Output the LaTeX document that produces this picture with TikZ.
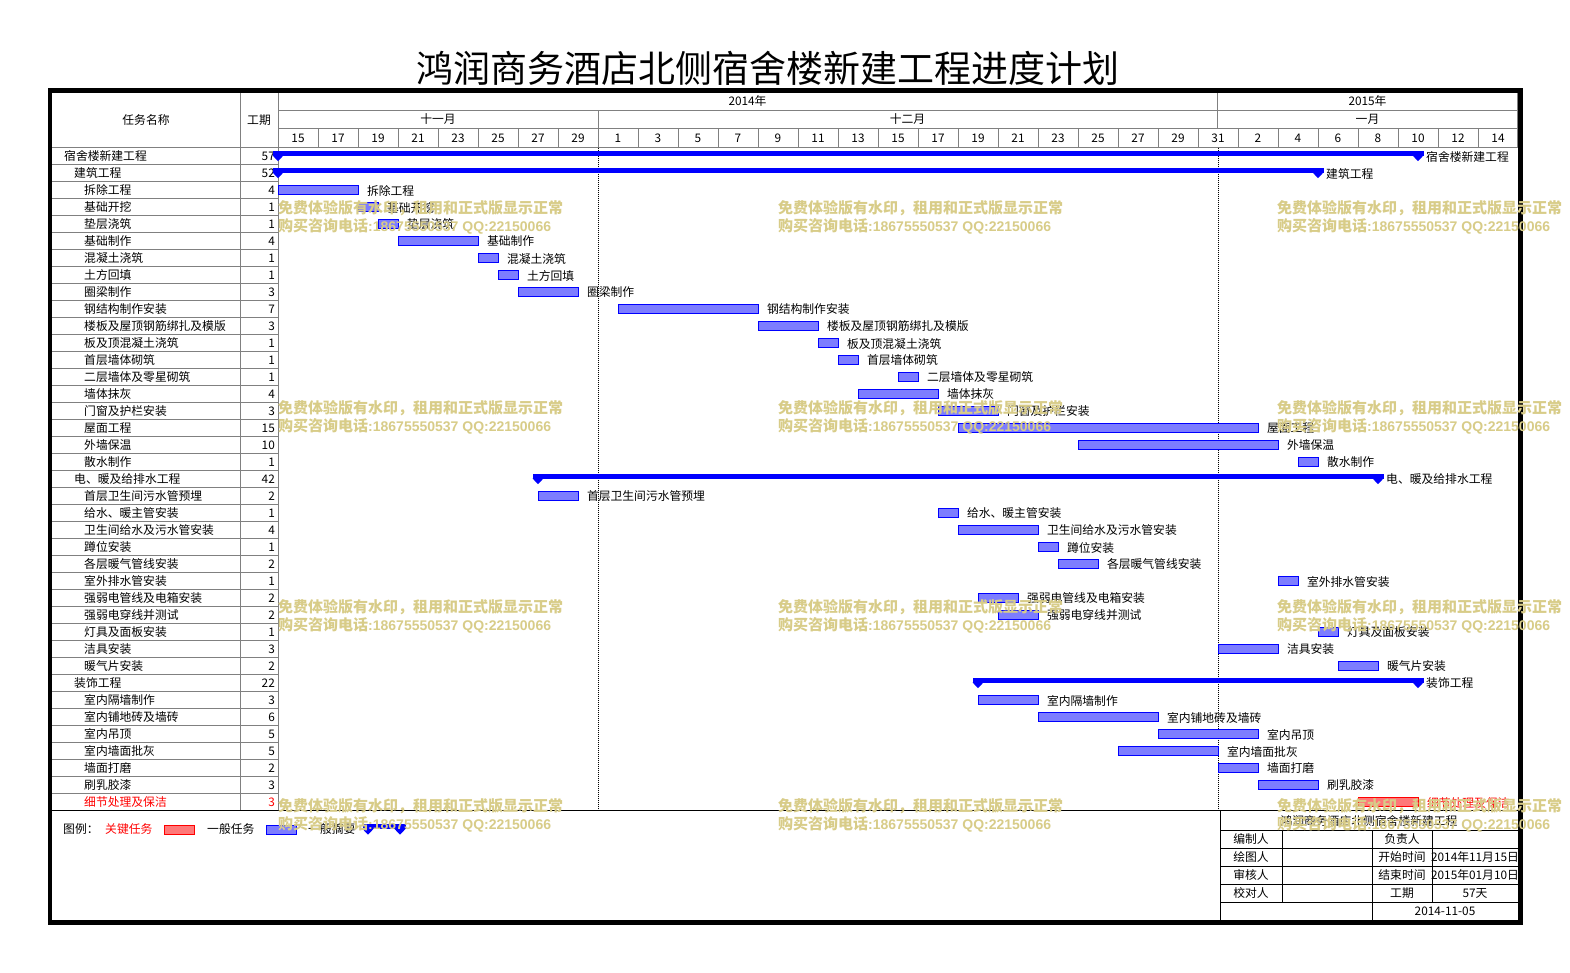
\documentclass[tikz,border=0pt]{standalone}
\usepackage{fontspec}
\setmainfont{Noto Sans CJK SC}
\newfontfamily\wmlat{Liberation Sans}
\definecolor{barfill}{RGB}{125,125,255}
\definecolor{critfill}{RGB}{255,120,120}
\definecolor{wm}{RGB}{216,204,136}
\definecolor{gridgray}{RGB}{128,128,128}
\newcommand\txtsz{\fontsize{11.8}{13}\selectfont}
\begin{document}
\begin{tikzpicture}[x=1pt,y=-1pt,
  every node/.style={inner sep=0pt, font=\txtsz},
  gridline/.style={draw=gridgray, line width=0.8pt},
  blackline/.style={draw=black, line width=0.8pt},
  taskbar/.style={draw=blue, fill=barfill, line width=0.8pt, minimum height=9.5pt, anchor=west},
  critbar/.style={draw=red, fill=critfill, line width=0.8pt, minimum height=9.5pt, anchor=west},
  lbl/.style={anchor=west},
  wmtext/.style={anchor=west, text=wm, font=\fontsize{15}{16}\selectfont\bfseries},
]
\useasboundingbox (0,0) rectangle (1570,972);
\fill[white] (0,0) rectangle (1570,972);

% title
\node (title) at (768,68) {\fontsize{37}{40}\selectfont 鸿润商务酒店北侧宿舍楼新建工程进度计划};

% header grid
\draw[gridline] (278,110.5) -- (1518,110.5);
\draw[gridline] (278,128.5) -- (1518,128.5);
\draw[gridline] (52,147.5) -- (1518,147.5);
\draw[gridline] (240.5,92) -- (240.5,810.5);
\draw[gridline] (278,92) -- (278,810.5);
\draw[gridline] (1217.5,92) -- (1217.5,128.5);
\draw[gridline] (598,110.5) -- (598,128.5);
\foreach \k in {1,...,30} \draw[gridline] ({278+40*\k},128.5) -- ({278+40*\k},147.5);
\draw[gridline] (1517,92) -- (1517,147.5);
\foreach \j in {1,...,38} \draw[gridline] (52,{147.5+17*\j}) -- (278,{147.5+17*\j});

% header texts
\node (hname) at (146,120) {任务名称};
\node (hdur) at (259,120) {工期};
\node (y2014) at (747.5,101) {2014年};
\node (y2015) at (1367.5,101) {2015年};
\node (m11) at (438,119) {十一月};
\node (m12) at (907.5,119) {十二月};
\node (m1) at (1367.5,119) {一月};
\foreach \k/\lab in {0/15,1/17,2/19,3/21,4/23,5/25,6/27,7/29,8/1,9/3,10/5,11/7,12/9,13/11,14/13,15/15,16/17,17/19,18/21,19/23,20/25,21/27,22/29,23/31,24/2,25/4,26/6,27/8,28/10,29/12,30/14}
  \node (dl\k) at ({298+40*\k},138) {\lab};

% dotted month lines
\draw[black, line width=0.8pt, dash pattern=on 1pt off 1pt] (598,147.5) -- (598,810.5);
\draw[black, line width=0.8pt, dash pattern=on 1pt off 1pt] (1218,147.5) -- (1218,810.5);

% task names and durations
\foreach \i/\lvl/\nm/\du in {0/0/宿舍楼新建工程/57, 1/1/建筑工程/52, 2/2/拆除工程/4, 3/2/基础开挖/1, 4/2/垫层浇筑/1, 5/2/基础制作/4, 6/2/混凝土浇筑/1, 7/2/土方回填/1, 8/2/圈梁制作/3, 9/2/钢结构制作安装/7, 10/2/楼板及屋顶钢筋绑扎及模版/3, 11/2/板及顶混凝土浇筑/1, 12/2/首层墙体砌筑/1, 13/2/二层墙体及零星砌筑/1, 14/2/墙体抹灰/4, 15/2/门窗及护栏安装/3, 16/2/屋面工程/15, 17/2/外墙保温/10, 18/2/散水制作/1, 19/1/电、暖及给排水工程/42, 20/2/首层卫生间污水管预埋/2, 21/2/给水、暖主管安装/1, 22/2/卫生间给水及污水管安装/4, 23/2/蹲位安装/1, 24/2/各层暖气管线安装/2, 25/2/室外排水管安装/1, 26/2/强弱电管线及电箱安装/2, 27/2/强弱电穿线并测试/2, 28/2/灯具及面板安装/1, 29/2/洁具安装/3, 30/2/暖气片安装/2, 31/1/装饰工程/22, 32/2/室内隔墙制作/3, 33/2/室内铺地砖及墙砖/6, 34/2/室内吊顶/5, 35/2/室内墙面批灰/5, 36/2/墙面打磨/2, 37/2/刷乳胶漆/3}
{
  \pgfmathsetmacro\yc{156+17*\i}
  \node[anchor=west] (n\i) at ({64+10*\lvl},\yc) {\nm};
  \node[anchor=east] (du\i) at (275,\yc) {\du};
}
\node[anchor=west, text=red] (n38) at (84,802) {细节处理及保洁};
\node[anchor=east, text=red] (du38) at (275,802) {3};

% summary bars
\foreach \i/\s/\e/\nm in {0/0/57/宿舍楼新建工程, 1/0/52/建筑工程, 19/13/55/电、暖及给排水工程, 31/35/57/装饰工程}
{
  \pgfmathsetmacro\yc{156+17*\i}
  \pgfmathsetmacro\xa{278+20*\s}
  \pgfmathsetmacro\xb{278+20*\e}
  \fill[blue] (\xa-5.5,\yc-5.5) rectangle (\xb+5.5,\yc-0.5);
  \fill[blue] (\xa-5.5,\yc-0.6) -- (\xa+5.5,\yc-0.6) -- (\xa,\yc+5.2) -- cycle;
  \fill[blue] (\xb-5.5,\yc-0.6) -- (\xb+5.5,\yc-0.6) -- (\xb,\yc+5.2) -- cycle;
  \node[lbl] (sl\i) at (\xb+8,\yc+0.5) {\nm};
}

% task bars
\foreach \i/\s/\e/\nm in {2/0/4/拆除工程, 3/4/5/基础开挖, 4/5/6/垫层浇筑, 5/6/10/基础制作, 6/10/11/混凝土浇筑, 7/11/12/土方回填, 8/12/15/圈梁制作, 9/17/24/钢结构制作安装, 10/24/27/楼板及屋顶钢筋绑扎及模版, 11/27/28/板及顶混凝土浇筑, 12/28/29/首层墙体砌筑, 13/31/32/二层墙体及零星砌筑, 14/29/33/墙体抹灰, 15/33/36/门窗及护栏安装, 16/34/49/屋面工程, 17/40/50/外墙保温, 18/51/52/散水制作, 20/13/15/首层卫生间污水管预埋, 21/33/34/给水、暖主管安装, 22/34/38/卫生间给水及污水管安装, 23/38/39/蹲位安装, 24/39/41/各层暖气管线安装, 25/50/51/室外排水管安装, 26/35/37/强弱电管线及电箱安装, 27/36/38/强弱电穿线并测试, 28/52/53/灯具及面板安装, 29/47/50/洁具安装, 30/53/55/暖气片安装, 32/35/38/室内隔墙制作, 33/38/44/室内铺地砖及墙砖, 34/44/49/室内吊顶, 35/42/47/室内墙面批灰, 36/47/49/墙面打磨, 37/49/52/刷乳胶漆}
{
  \pgfmathsetmacro\yc{156+17*\i}
  \pgfmathsetmacro\xa{278+20*\s}
  \pgfmathsetmacro\barw{20*(\e-\s)}
  \node[taskbar, minimum width=\barw pt] (b\i) at (\xa,\yc) {};
  \node[lbl] (l\i) at ([xshift=8pt,yshift=-0.5pt]b\i.east) {\nm};
}
\node[critbar, minimum width=60pt] (b38) at (1358,802) {};
\node[lbl, text=red] (l38) at ([xshift=8pt,yshift=-0.5pt]b38.east) {细节处理及保洁};

% bottom separator
\draw[blackline] (52,810.5) -- (1518,810.5);

% legend
\node[anchor=west] (lg0) at (63,829) {图例：};
\node[anchor=west, text=red] (lg1) at (105,829) {关键任务};
\node[draw=red, fill=critfill, line width=0.8pt, minimum width=30pt, minimum height=8.6pt, anchor=west] (lgb1) at (164,830) {};
\node[anchor=west] (lg2) at (207,829) {一般任务};
\node[draw=blue, fill=barfill, line width=0.8pt, minimum width=30pt, minimum height=8.6pt, anchor=west] (lgb2) at (266,830) {};
\node[anchor=west] (lg3) at (308,829) {一般摘要};
\fill[blue] (362.5,824) rectangle (405.5,829);
\fill[blue] (362.5,828.9) -- (373.5,828.9) -- (368,834.7) -- cycle;
\fill[blue] (394.5,828.9) -- (405.5,828.9) -- (400,834.7) -- cycle;

% info table
\draw[blackline] (1220,810.5) -- (1220,921);
\foreach \yy in {830,848,866,884,902} \draw[blackline] (1220,\yy) -- (1518,\yy);
\draw[blackline] (1282,830) -- (1282,902);
\draw[blackline] (1372,830) -- (1372,921);
\draw[blackline] (1432,830) -- (1432,902);
\node (it0) at (1369,820.5) {鸿润商务酒店北侧宿舍楼新建工程};
\node (it1) at (1251,839) {编制人};
\node (it2) at (1251,857) {绘图人};
\node (it3) at (1251,875) {审核人};
\node (it4) at (1251,893) {校对人};
\node (it5) at (1402,839) {负责人};
\node (it6) at (1402,857) {开始时间};
\node (it7) at (1402,875) {结束时间};
\node (it8) at (1402,893) {工期};
\node (it9) at (1475,857) {2014年11月15日};
\node (it10) at (1475,875) {2015年01月10日};
\node (it11) at (1475,893) {57天};
\node (it12) at (1445,911) {2014-11-05};

% outer frame
\draw[black, line width=4.5pt] (50,90.5) rectangle (1520.5,922.5);

% watermarks
\foreach \wx in {278,778,1277}
  \foreach \wy in {208,408,607,806}
  {
    \node[wmtext] (wa-\wx-\wy) at (\wx,\wy) {免费体验版有水印，租用和正式版显示正常};
    \node[wmtext] (wb-\wx-\wy) at (\wx,\wy+18) {购买咨询电话{\wmlat\fontsize{14}{16}\selectfont :18675550537 QQ:22150066}};
  }
\end{tikzpicture}
\end{document}
